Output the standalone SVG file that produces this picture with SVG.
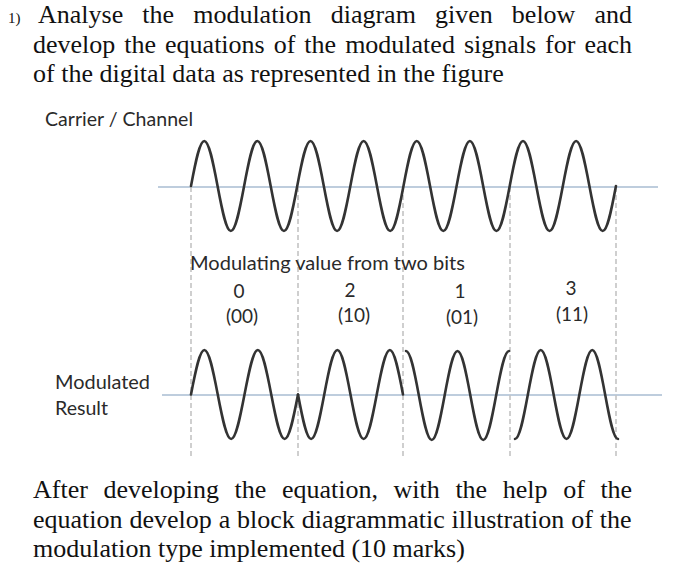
<svg xmlns="http://www.w3.org/2000/svg" width="678" height="571" viewBox="0 0 678 571">
<style>
.serif{font-family:"Liberation Serif","Times New Roman",serif;font-size:26px;fill:#111}
.sans{font-family:Lato,"Open Sans","Liberation Sans",sans-serif;font-size:19px;fill:#2a2a2a}
.mid{text-anchor:middle}
.axis{stroke:#a9bdd2;stroke-width:1.5;fill:none}
.dash{stroke:#c4c4c4;stroke-width:1.6;stroke-dasharray:5,3;fill:none}
.wave{stroke:#333;stroke-width:2.6;fill:none;stroke-linejoin:round;stroke-linecap:round}
</style>
<rect width="678" height="571" fill="#fff"/>
<g id="question">
<text x="8" y="23" style="font-family:'Liberation Serif',serif;font-size:15px;fill:#111">1)</text>
<text class="serif" x="38" y="23" word-spacing="12.6">Analyse the modulation diagram given below and</text>
<text class="serif" x="33" y="53" word-spacing="2.5">develop the equations of the modulated signals for each</text>
<text class="serif" x="33" y="82">of the digital data as represented in the figure</text>
</g>
<g id="connectors">
<line class="axis" x1="158" y1="187" x2="658" y2="187"/>
<line class="axis" x1="162" y1="395" x2="662" y2="395"/>
<line class="dash" x1="191" y1="187" x2="191" y2="458"/>
<line class="dash" x1="298" y1="187" x2="298" y2="458"/>
<line class="dash" x1="403" y1="187" x2="403" y2="458"/>
<line class="dash" x1="510" y1="187" x2="510" y2="458"/>
<line class="dash" x1="616" y1="187" x2="616" y2="458"/>
</g>
<g id="carrier">
<text class="sans" x="45" y="126" textLength="148" lengthAdjust="spacingAndGlyphs">Carrier / Channel</text>
<path class="wave" d="M191,186 c4.44,-23.63 8.49,-45 13.28,-45 s8.84,21.37 13.28,45 s8.49,45 13.28,45 s8.84,-21.37 13.28,-45
s8.49,-45 13.28,-45 s8.84,21.37 13.28,45 s8.49,45 13.28,45 s8.84,-21.37 13.28,-45
s8.49,-45 13.28,-45 s8.84,21.37 13.28,45 s8.49,45 13.28,45 s8.84,-21.37 13.28,-45
s8.49,-45 13.28,-45 s8.84,21.37 13.28,45 s8.49,45 13.28,45 s8.84,-21.37 13.28,-45
s8.49,-45 13.28,-45 s8.84,21.37 13.28,45 s8.49,45 13.28,45 s8.84,-21.37 13.28,-45
s8.49,-45 13.28,-45 s8.84,21.37 13.28,45 s8.49,45 13.28,45 s8.84,-21.37 13.28,-45
s8.49,-45 13.28,-45 s8.84,21.37 13.28,45 s8.49,45 13.28,45 s8.84,-21.37 13.28,-45
s8.49,-45 13.28,-45 s8.84,21.37 13.28,45 s8.49,45 13.28,45 s8.84,-21.37 13.28,-45"/>
</g>
<g id="modulating-values">
<text class="sans" x="190" y="270" textLength="275" lengthAdjust="spacingAndGlyphs">Modulating value from two bits</text>
<text class="sans mid" x="239" y="298">0</text>
<text class="sans mid" x="242" y="323">(00)</text>
<text class="sans mid" x="350" y="297">2</text>
<text class="sans mid" x="354" y="322">(10)</text>
<text class="sans mid" x="460" y="298">1</text>
<text class="sans mid" x="462" y="324">(01)</text>
<text class="sans mid" x="571" y="295">3</text>
<text class="sans mid" x="572" y="321">(11)</text>
</g>
<g id="modulated">
<text class="sans" x="55" y="389" textLength="95" lengthAdjust="spacingAndGlyphs">Modulated</text>
<text class="sans" x="55" y="415" textLength="53" lengthAdjust="spacingAndGlyphs">Result</text>
<path class="wave" d="M191,394.5 c4.47,-23.37 8.55,-44.5 13.375,-44.5 s8.9,21.13 13.375,44.5 s8.55,44.5 13.375,44.5 s8.9,-21.13 13.375,-44.5 s8.55,-44.5 13.375,-44.5 s8.9,21.13 13.375,44.5 s8.55,44.5 13.375,44.5 s8.9,-21.13 13.375,-44.5"/>
<path class="wave" d="M298,394.5 c4.39,23.37 8.39,44.5 13.125,44.5 s8.74,-21.13 13.125,-44.5 s8.39,-44.5 13.125,-44.5 s8.74,21.13 13.125,44.5 s8.39,44.5 13.125,44.5 s8.74,-21.13 13.125,-44.5 s8.39,-44.5 13.125,-44.5 s8.74,21.13 13.125,44.5"/>
<path class="wave" d="M406,351 c4.64,0 8.57,21.13 12.875,44.5 s8.23,44.5 12.875,44.5 s8.57,-21.13 12.875,-44.5 s8.23,-44.5 12.875,-44.5 s8.57,21.13 12.875,44.5 s8.23,44.5 12.875,44.5 s8.57,-21.13 12.875,-44.5 s8.23,-44.5 12.875,-44.5"/>
<path class="wave" d="M515,439 c4.64,0 8.57,-21.13 12.875,-44.5 s8.23,-44.5 12.875,-44.5 s8.57,21.13 12.875,44.5 s8.23,44.5 12.875,44.5 s8.57,-21.13 12.875,-44.5 s8.23,-44.5 12.875,-44.5 s8.57,21.13 12.875,44.5 s8.23,44.5 12.875,44.5"/>
</g>
<g id="task">
<text class="serif" x="33" y="498" word-spacing="9.1">After developing the equation, with the help of the</text>
<text class="serif" x="33" y="528" word-spacing="0.4">equation develop a block diagrammatic illustration of the</text>
<text class="serif" x="33" y="557">modulation type implemented (10 marks)</text>
</g>
</svg>
